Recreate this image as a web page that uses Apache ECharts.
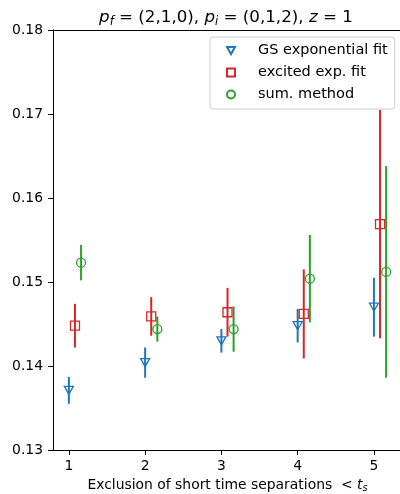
<!DOCTYPE html>
<html>
<head>
<meta charset="utf-8">
<script src="https://cdn.jsdelivr.net/npm/echarts@6/dist/echarts.min.js"></script>
<style>html,body{margin:0;padding:0;background:#fff}#c{width:400px;height:494px}</style>
</head>
<body>
<div id="c"></div>
<script>
const categories = [1, 2, 3, 4, 5];
const xTicks = [1, 2, 3, 4, 5];
const yTicks = [0.13, 0.14, 0.15, 0.16, 0.17, 0.18];
const gsVal = [0.1371, 0.1404, 0.1430, 0.1448, 0.1470];
const gsErr = [0.0016, 0.0018, 0.0014, 0.0020, 0.0035];
const excVal = [0.1448, 0.1459, 0.1464, 0.1462, 0.1569];
const excErr = [0.0026, 0.0023, 0.0029, 0.0053, 0.0136];
const sumVal = [0.1523, 0.1444, 0.1444, 0.1504, 0.1512];
const sumErr = [0.0021, 0.0015, 0.0027, 0.0052, 0.0126];
const seriesNames = ['GS exponential fit', 'excited exp. fit', 'sum. method'];
const offsets = [0, 0.08, 0.16];

const colors = ['#1f77b4', '#d62728', '#2ca02c'];
const symbols = ['path://M0,0 L10,0 L5,9 Z', 'rect', 'circle'];
const vals = [gsVal, excVal, sumVal];
const errs = [gsErr, excErr, sumErr];
const font = 'DejaVu Sans';

const series = [];
for (let s = 0; s < 3; s++) {
  const data = categories.map((c, i) => [c + offsets[s], vals[s][i], errs[s][i]]);
  series.push({
    type: 'custom',
    name: seriesNames[s] + '_err',
    data: data,
    z: 2,
    silent: true,
    renderItem: function (params, api) {
      const x = api.value(0), v = api.value(1), e = api.value(2);
      const p1 = api.coord([x, v - e]);
      const p2 = api.coord([x, v + e]);
      return {
        type: 'line',
        shape: { x1: p1[0], y1: p1[1], x2: p2[0], y2: p2[1] },
        style: { stroke: colors[s], lineWidth: 2 }
      };
    }
  });
  series.push({
    type: 'scatter',
    name: seriesNames[s],
    data: data.map(d => [d[0], d[1]]),
    symbol: symbols[s],
    symbolSize: s === 0 ? [9, 8] : 9,
    z: 3,
    itemStyle: { color: 'rgba(0,0,0,0)', borderColor: colors[s], borderWidth: 1.3, opacity: 1 }
  });
}

const chart = echarts.init(document.getElementById('c'), null, { renderer: 'canvas' });
chart.setOption({
  animation: false,
  backgroundColor: '#fff',
  title: {
    text: '{i|p}{s|f}{n| = (2,1,0), }{i|p}{s|i}{n| = (0,1,2), }{i|z}{n| = 1}',
    left: 221,
    textAlign: 'center',
    top: 3,
    textStyle: {
      fontWeight: 'normal',
      rich: {
        i: { fontFamily: font, fontSize: 16.7, fontStyle: 'italic', fontWeight: 'normal', color: '#000' },
        n: { fontFamily: font, fontSize: 16.7, fontWeight: 'normal', color: '#000' },
        s: { fontFamily: font, fontSize: 11.5, fontStyle: 'italic', fontWeight: 'normal', color: '#000', padding: [8, 0, 0, 0] }
      }
    }
  },
  legend: {
    data: seriesNames,
    orient: 'vertical',
    left: 210,
    top: 37,
    padding: [6, 7, 7, 16],
    itemGap: 7,
    itemWidth: 8,
    itemHeight: 8,
    borderColor: '#d0d0d0',
    borderWidth: 1,
    borderRadius: 3,
    backgroundColor: 'rgba(255,255,255,0.8)',
    textStyle: { fontFamily: font, fontSize: 14.5, color: '#000', padding: [0, 0, 0, 18] }
  },
  grid: { left: 53, right: -2, top: 30, bottom: 44, show: false, containLabel: false, outerBoundsMode: 'none' },
  xAxis: [{
    type: 'value',
    min: 0.792,
    max: 5.368,
    name: '{n|Exclusion of short time separations  < }{i|t}{s|s}',
    nameLocation: 'middle',
    nameGap: 23,
    nameTextStyle: {
      rich: {
        n: { fontFamily: font, fontSize: 13.9, color: '#000' },
        i: { fontFamily: font, fontSize: 13.9, fontStyle: 'italic', color: '#000' },
        s: { fontFamily: font, fontSize: 9.7, fontStyle: 'italic', color: '#000', padding: [7, 0, 0, 0] }
      }
    },
    splitLine: { show: false },
    axisLine: { show: true, onZero: false, lineStyle: { color: '#000', width: 1 } },
    axisTick: { show: true, customValues: xTicks, length: 5, lineStyle: { color: '#000' } },
    axisLabel: { customValues: xTicks, fontFamily: font, fontSize: 13.9, color: '#000', margin: 9, formatter: v => String(Math.round(v)) }
  }, {
    type: 'value',
    position: 'top',
    min: 0.792,
    max: 5.368,
    splitLine: { show: false },
    axisLine: { show: true, onZero: false, lineStyle: { color: '#000', width: 1 } },
    axisTick: { show: false },
    axisLabel: { show: false }
  }],
  yAxis: {
    type: 'value',
    min: 0.13,
    max: 0.18,
    splitLine: { show: false },
    axisLine: { show: true, lineStyle: { color: '#000', width: 1 } },
    axisTick: { show: true, customValues: yTicks, length: 5, lineStyle: { color: '#000' } },
    axisLabel: { customValues: yTicks, fontFamily: font, fontSize: 13.9, color: '#000', margin: 10, formatter: v => v.toFixed(2) }
  },
  series: series
});
</script>
</body>
</html>
